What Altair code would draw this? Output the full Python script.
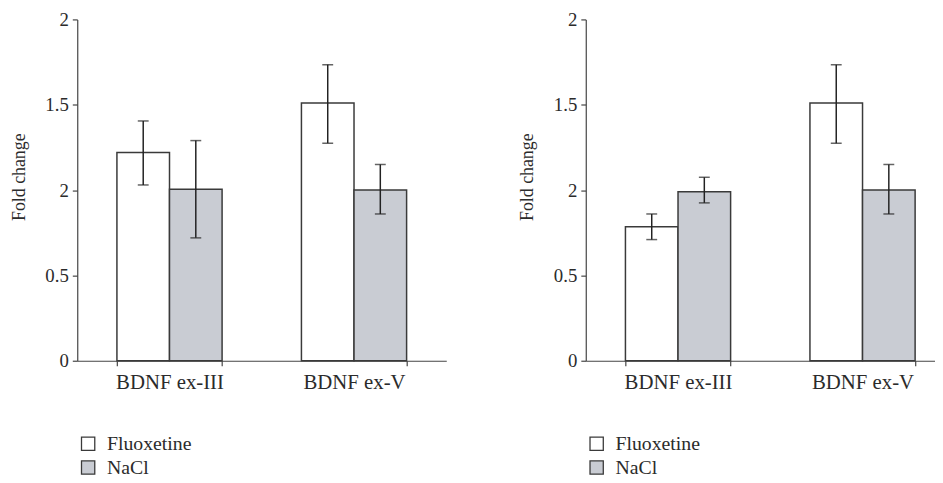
import altair as alt
import pandas as pd

genes = ["BDNF ex-III", "BDNF ex-V"]
groups = ["Fluoxetine", "NaCl"]
group_colors = ["#ffffff", "#c9ccd3"]

# Left panel
a_fluox_mean = [1.22, 1.51]
a_fluox_lo = [1.03, 1.275]
a_fluox_hi = [1.405, 1.735]
a_nacl_mean = [1.005, 1.0]
a_nacl_lo = [0.72, 0.86]
a_nacl_hi = [1.29, 1.15]

# Right panel
b_fluox_mean = [0.785, 1.51]
b_fluox_lo = [0.71, 1.275]
b_fluox_hi = [0.86, 1.735]
b_nacl_mean = [0.99, 1.0]
b_nacl_lo = [0.925, 0.86]
b_nacl_hi = [1.075, 1.15]

y_tick_values = [0, 0.5, 1, 1.5, 2]
y_tick_labels = ["0", "0.5", "2", "1.5", "2"]

FONT = "Liberation Serif"
INK = "#2b2b2b"


def build_df(fm, fl, fh, nm, nl, nh):
    rows = []
    for i, g in enumerate(genes):
        rows.append({"gene": g, "group": groups[0], "mean": fm[i], "lo": fl[i], "hi": fh[i]})
        rows.append({"gene": g, "group": groups[1], "mean": nm[i], "lo": nl[i], "hi": nh[i]})
    return pd.DataFrame(rows)


label_expr = ""
for v, t in zip(y_tick_values, y_tick_labels):
    label_expr += f"datum.value == {v} ? '{t}' : "
label_expr += "datum.label"


def panel(df, width):
    base = alt.Chart(df).encode(
        x=alt.X(
            "gene:N",
            sort=genes,
            title=None,
            scale=alt.Scale(paddingInner=0.43, paddingOuter=0.215),
            axis=alt.Axis(
                labelFont=FONT, labelFontSize=21, labelColor=INK, labelAngle=0,
                domainColor="#444", tickColor="#444", tickSize=5, tickBand="extent",
                labelPadding=6, domainWidth=1.2, tickWidth=1.2,
            ),
        ),
        xOffset=alt.XOffset("group:N", sort=groups, scale=alt.Scale(paddingInner=0, paddingOuter=0)),
    )
    bars = base.mark_bar(stroke="#3a3a3a", strokeWidth=1.5).encode(
        y=alt.Y(
            "mean:Q",
            scale=alt.Scale(domain=[0, 2], nice=False),
            title="Fold change",
            axis=alt.Axis(
                values=y_tick_values, labelExpr=label_expr, grid=False,
                labelFont=FONT, labelFontSize=19, labelColor=INK,
                titleFont=FONT, titleFontSize=18, titleFontWeight="normal", titleColor=INK,
                domainColor="#444", tickColor="#444", tickSize=5, labelPadding=4,
                titlePadding=17, titleY=159, domainWidth=1.2, tickWidth=1.2,
            ),
        ),
        fill=alt.Fill(
            "group:N",
            sort=groups,
            scale=alt.Scale(domain=groups, range=group_colors),
            legend=alt.Legend(
                title=None, orient="none", legendX=1, legendY=419,
                symbolType="square", symbolSize=180, symbolStrokeColor="#3a3a3a",
                symbolStrokeWidth=1.3, labelFont=FONT, labelFontSize=20, labelColor=INK,
                rowPadding=4, labelOffset=9,
            ),
        ),
    )
    rules = base.mark_rule(color="#222", strokeWidth=1.5).encode(y="lo:Q", y2="hi:Q")
    cap_hi = base.mark_tick(color="#222", thickness=1.5, size=11, orient="horizontal").encode(y="hi:Q")
    cap_lo = base.mark_tick(color="#222", thickness=1.5, size=11, orient="horizontal").encode(y="lo:Q")
    return alt.layer(bars, rules, cap_hi, cap_lo).properties(width=width, height=345)


left = panel(build_df(a_fluox_mean, a_fluox_lo, a_fluox_hi, a_nacl_mean, a_nacl_lo, a_nacl_hi), 373)
right = panel(build_df(b_fluox_mean, b_fluox_lo, b_fluox_hi, b_nacl_mean, b_nacl_lo, b_nacl_hi), 373)

chart = (
    alt.hconcat(left, right, spacing=73)
    .resolve_legend(fill="independent")
    .properties(padding={"left": 2, "top": 0, "right": -20, "bottom": 0})
    .configure_view(stroke=None)
)

chart.save("out.html", embed_options={"renderer": "svg", "actions": False})
